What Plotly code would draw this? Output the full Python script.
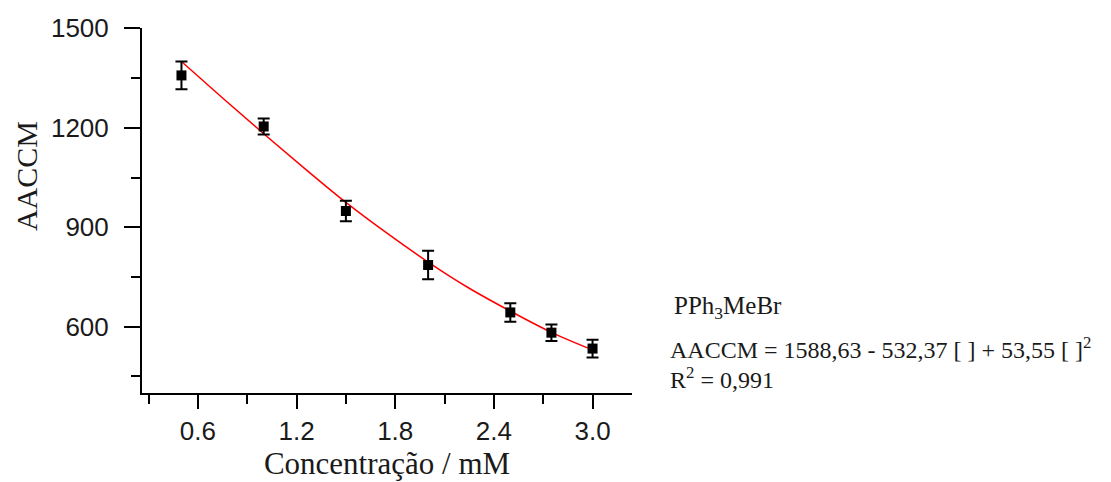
import plotly.graph_objects as go

# Data
conc = [0.5, 1.0, 1.5, 2.0, 2.5, 2.75, 3.0]
aaccm = [1358, 1204, 949, 786, 643, 582, 534]
aaccm_err = [42, 24, 31, 43, 28, 25, 27]

fit_x = [0.5, 0.75, 1.0, 1.25, 1.5, 1.75, 2.0, 2.25, 2.5, 2.75, 3.0]
fit_y = [1400, 1290, 1182, 1077, 975, 882, 795, 716, 647, 583, 530]

x_ticks = [0.6, 1.2, 1.8, 2.4, 3.0]
x_ticklabels = ["0.6", "1.2", "1.8", "2.4", "3.0"]
y_ticks = [600, 900, 1200, 1500]

x_title = "Concentração / mM"
y_title = "AACCM"
label_name = "PPh<sub>3</sub>MeBr"
label_eq = "AACCM = 1588,63 - 532,37 [ ] + 53,55 [ ]<sup>2</sup>"
label_r2 = "R<sup>2</sup> = 0,991"

fig = go.Figure()
fig.add_trace(go.Scatter(
    x=fit_x, y=fit_y, mode="lines", line=dict(color="#ff0000", width=1.5, shape="spline"),
    showlegend=False, hoverinfo="skip"))
fig.add_trace(go.Scatter(
    x=conc, y=aaccm, mode="markers",
    marker=dict(symbol="square", size=10, color="black"),
    error_y=dict(type="data", array=aaccm_err, visible=True, color="black", thickness=2, width=6),
    showlegend=False))

tick_font = dict(family="Arial, Liberation Sans, sans-serif", size=26, color="#1a1a1a")
serif = "Times New Roman, Liberation Serif, serif"

fig.update_layout(
    width=1111, height=482,
    margin=dict(l=142, r=479, t=28, b=89, autoexpand=False),
    paper_bgcolor="white", plot_bgcolor="white",
    xaxis=dict(
        range=[0.26, 3.24], showgrid=False, zeroline=False,
        showline=True, linecolor="black", linewidth=2,
        ticks="outside", ticklen=14, tickwidth=2, tickcolor="black",
        tickvals=x_ticks, ticktext=x_ticklabels, tickfont=tick_font,
        ticklabelstandoff=0,
        minor=dict(ticks="outside", ticklen=9, tickwidth=2, tickcolor="black",
                   tickvals=[0.3, 0.9, 1.5, 2.1, 2.7]),
        title=dict(text=x_title, font=dict(size=31, family=serif, color="#1a1a1a"), standoff=4),
    ),
    yaxis=dict(
        range=[400, 1501], showgrid=False, zeroline=False,
        showline=True, linecolor="black", linewidth=2,
        ticks="outside", ticklen=16, tickwidth=2, tickcolor="black",
        tickvals=y_ticks, tickfont=tick_font,
        ticklabelstandoff=10,
        minor=dict(ticks="outside", ticklen=9, tickwidth=2, tickcolor="black",
                   tickvals=[450, 750, 1050, 1350]),
    ),
)

# y-axis title (placed off-centre, as in the reference)
fig.add_annotation(text=y_title, xref="paper", yref="paper", x=-0.237, y=0.594,
                   xanchor="center", yanchor="middle", textangle=-90, showarrow=False,
                   font=dict(size=30, family=serif, color="#1a1a1a"))

ann_font = dict(family=serif, size=24, color="#1a1a1a")
fig.add_annotation(text=label_name, xref="paper", yref="paper", x=1.081, y=0.233,
                   xanchor="left", yanchor="middle", showarrow=False,
                   font=dict(family=serif, size=25, color="#1a1a1a"))
fig.add_annotation(text=label_eq, xref="paper", yref="paper", x=1.073, y=0.122,
                   xanchor="left", yanchor="middle", showarrow=False, font=ann_font)
fig.add_annotation(text=label_r2, xref="paper", yref="paper", x=1.073, y=0.042,
                   xanchor="left", yanchor="middle", showarrow=False, font=ann_font)

fig.write_html("out.html", config={"displayModeBar": False},
               post_script="document.body.style.margin='0px';")
